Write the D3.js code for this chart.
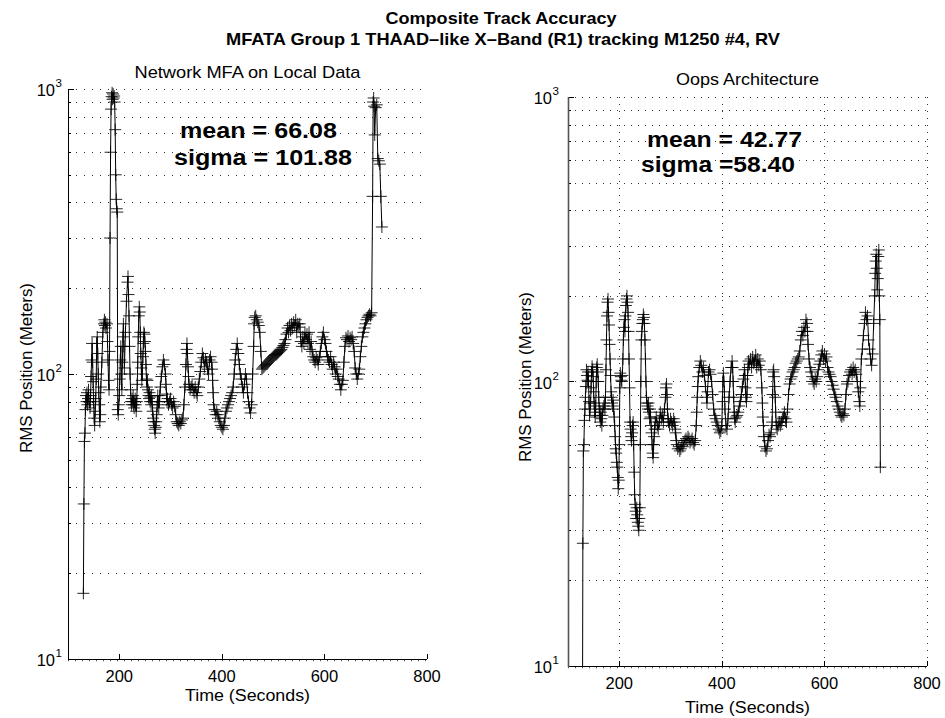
<!DOCTYPE html>
<html>
<head>
<meta charset="utf-8">
<script src="https://cdn.jsdelivr.net/npm/d3@7"></script>
<style>
body { margin: 0; background: #fff; }
svg { display: block; font-family: "Liberation Sans", Arial, Helvetica, sans-serif; }
</style>
</head>
<body>
<script>
(function(){

//pseudo-global chart data
var figTitle = ["Composite Track Accuracy", "MFATA Group 1 THAAD\u2013like X\u2013Band (R1) tracking M1250 #4, RV"];
var panelTitles = ["Network MFA on Local Data", "Oops Architecture"];
var statLines = [["mean = 66.08", "sigma = 101.88"], ["mean = 42.77", "sigma =58.40"]];
var xTicks = [200, 400, 600, 800];
var yTicks = [10, 100, 1000];
var yExps = ["1", "2", "3"];
var xLabel = "Time (Seconds)";
var yLabel = "RMS Position (Meters)";

//[time (s), rms position (m)]
var leftTrack = [
  [130,17],[131,35],[132,58],[133,62],[134,75],[135,84],[136,80],[137,86],[138,78],[139,82],
  [140,88],[141,80],[143,76],[144,84],[145,98],[146,112],[147,128],[148,110],[149,94],[150,80],
  [151,70],[152,66],[153,74],[154,82],[155,96],[156,128],[157,135],[158,118],[159,100],[160,86],
  [161,78],[162,68],[163,72],[164,90],[166,110],[168,140],[170,150],[171,155],[172,148],[173,152],
  [174,145],[176,150],[177,130],[178,112],[179,95],[180,88],[181,120],[182,300],[183,600],[184,850],
  [185,940],[186,970],[187,920],[188,960],[189,930],[190,945],[191,900],[192,720],[193,500],[194,410],
  [195,380],[196,370],[197,75],[198,72],[199,78],[200,84],[201,96],[202,112],[203,125],[204,100],
  [205,88],[206,110],[207,135],[208,150],[209,125],[210,105],[212,140],[214,180],[216,210],[217,220],
  [218,190],[219,160],[220,125],[221,100],[222,88],[223,80],[224,78],[225,82],[226,80],[227,84],
  [228,78],[229,76],[230,80],[231,82],[232,78],[233,74],[234,80],[235,92],[236,110],[237,135],
  [238,160],[239,172],[240,165],[241,140],[242,118],[243,105],[244,95],[245,100],[246,115],[247,128],
  [248,140],[249,138],[250,130],[251,120],[252,108],[253,96],[254,90],[255,95],[256,88],[257,84],
  [258,82],[259,86],[260,80],[261,83],[262,78],[263,84],[264,80],[265,74],[266,70],[267,68],
  [268,66],[269,64],[270,62],[271,65],[272,68],[273,72],[274,78],[275,84],[276,80],[277,76],
  [278,80],[279,84],[280,90],[282,98],[284,106],[286,112],[288,108],[290,100],[291,92],[292,85],
  [293,80],[294,82],[296,78],[298,80],[300,82],[302,78],[304,76],[306,80],[308,77],[310,72],
  [312,68],[314,67],[316,66],[318,68],[320,67],[322,69],[324,70],[326,78],[328,90],[330,108],
  [331,122],[332,128],[333,118],[334,106],[335,98],[336,92],[338,88],[340,90],[342,92],[344,88],
  [346,86],[348,90],[350,86],[352,84],[354,90],[356,96],[358,102],[360,110],[362,118],[364,114],
  [366,106],[368,112],[370,110],[372,104],[374,100],[376,112],[378,115],[380,110],[381,104],[382,95],
  [383,86],[384,78],[386,75],[388,72],[390,74],[392,72],[394,70],[396,68],[398,66],[400,65],
  [402,64],[404,66],[406,70],[408,74],[410,76],[412,78],[414,80],[416,82],[418,84],[420,86],
  [422,90],[424,100],[426,112],[428,122],[430,128],[432,118],[434,108],[436,100],[438,96],[440,90],
  [442,86],[444,92],[446,100],[448,96],[450,86],[452,80],[454,76],[456,73],[458,78],[460,100],
  [462,125],[463,150],[464,158],[466,160],[468,155],[470,152],[472,148],[474,140],[476,120],[478,104],
  [480,105],[482,106],[484,107],[486,108],[488,109],[490,110],[492,111],[494,112],[496,113],[498,114],
  [500,115],[502,116],[504,117],[506,117],[508,118],[510,119],[512,120],[514,121],[516,122],[518,124],
  [520,126],[522,128],[524,132],[526,138],[528,145],[530,140],[532,148],[534,142],[536,150],[538,145],
  [540,152],[542,148],[544,155],[546,140],[548,150],[550,146],[552,150],[554,130],[556,125],[558,135],
  [560,128],[562,140],[564,132],[566,138],[568,128],[570,140],[572,122],[574,130],[576,120],[578,115],
  [580,112],[582,110],[584,114],[586,112],[588,108],[590,115],[592,120],[594,128],[596,135],[598,140],
  [600,132],[602,128],[604,120],[606,115],[608,112],[610,110],[612,115],[614,108],[616,104],[618,110],
  [620,106],[622,100],[624,104],[626,98],[628,96],[630,92],[632,88],[634,92],[636,95],[638,110],
  [640,125],[642,134],[644,132],[646,136],[648,130],[650,134],[652,132],[654,135],[656,128],[658,120],
  [660,105],[662,100],[664,96],[666,100],[668,104],[670,115],[672,125],[674,135],[676,140],[678,145],
  [680,150],[682,155],[684,158],[686,160],[688,162],[690,160],[692,164],[694,420],[695,900],[696,930],
  [697,870],[698,690],[700,860],[702,880],[704,570],[706,560],[708,545],[710,420],[712,328]
];

//[time (s), rms position (m)]
var rightTrack = [
  [128,4],[129,27],[130,57],[131,60],[132,73],[133,80],[134,88],[135,96],[136,110],[137,105],
  [138,101],[139,108],[140,100],[141,85],[142,76],[143,80],[144,84],[145,95],[146,108],[147,113],
  [148,110],[149,104],[150,92],[151,84],[152,78],[153,75],[154,82],[155,100],[156,112],[157,115],
  [158,108],[159,100],[160,88],[161,80],[162,76],[163,72],[164,78],[165,74],[166,70],[167,76],
  [168,80],[170,82],[171,84],[172,80],[173,88],[174,110],[175,140],[176,170],[177,190],[178,195],
  [179,175],[180,158],[181,135],[182,120],[183,105],[184,92],[185,88],[186,84],[187,82],[188,86],
  [189,80],[190,75],[191,70],[192,64],[193,58],[194,56],[195,52],[196,50],[197,46],[198,42],
  [199,45],[200,60],[201,95],[202,107],[203,104],[204,101],[205,100],[206,105],[207,120],[208,140],
  [209,155],[210,165],[211,150],[212,170],[213,185],[214,195],[215,200],[216,190],[217,175],[218,150],
  [219,120],[220,95],[221,72],[222,68],[223,64],[224,62],[225,66],[226,70],[227,72],[228,60],
  [229,48],[230,40],[231,37],[232,35],[233,33],[234,36],[235,34],[236,32],[237,31],[238,30],
  [239,33],[240,36],[241,60],[242,100],[243,140],[244,150],[245,160],[246,165],[247,172],[248,168],
  [249,160],[250,140],[251,120],[252,100],[253,88],[254,84],[255,82],[256,80],[257,84],[258,78],
  [259,74],[260,80],[261,75],[262,70],[263,66],[264,60],[265,56],[266,54],[267,60],[268,64],
  [269,68],[270,72],[272,75],[274,70],[276,68],[278,72],[280,78],[282,74],[284,76],[286,72],
  [288,80],[290,88],[291,95],[292,98],[293,90],[294,80],[295,74],[296,72],[298,70],[300,74],
  [302,72],[304,70],[306,74],[308,72],[309,68],[310,66],[311,62],[312,60],[314,58],[316,59],
  [318,57],[320,58],[322,60],[324,59],[326,61],[328,62],[330,63],[332,62],[334,64],[336,63],
  [338,61],[340,62],[342,63],[344,61],[346,60],[348,62],[350,70],[351,78],[352,88],[353,96],
  [354,104],[356,112],[358,118],[360,114],[362,108],[364,112],[366,105],[368,96],[370,88],[371,84],
  [372,92],[374,108],[376,110],[378,106],[380,100],[382,90],[384,80],[386,76],[388,74],[390,72],
  [392,70],[394,68],[396,66],[398,67],[400,70],[401,85],[402,100],[403,107],[404,100],[405,92],
  [406,80],[408,70],[410,68],[412,74],[414,88],[416,100],[418,112],[420,118],[421,112],[422,100],
  [423,88],[424,78],[425,74],[426,72],[428,75],[430,76],[432,78],[434,82],[436,85],[438,90],
  [440,96],[442,102],[444,110],[445,105],[446,95],[447,88],[448,85],[449,90],[450,105],[451,112],
  [452,118],[454,115],[456,120],[458,112],[460,122],[462,116],[464,118],[466,124],[468,112],[470,120],
  [472,114],[474,118],[476,110],[478,95],[479,84],[480,75],[481,70],[482,64],[484,59],[486,57],
  [488,58],[490,62],[492,65],[494,64],[496,66],[498,72],[499,90],[500,108],[501,110],[502,104],
  [503,96],[504,88],[505,78],[506,70],[508,68],[510,70],[512,72],[514,70],[516,72],[518,74],
  [520,75],[522,78],[524,74],[526,72],[528,80],[530,90],[532,98],[534,102],[536,104],[538,108],
  [540,110],[542,112],[544,116],[546,118],[548,120],[550,122],[552,128],[554,140],[556,150],[558,145],
  [560,155],[562,150],[564,165],[566,160],[567,150],[568,135],[570,120],[572,112],[574,108],[576,104],
  [578,100],[580,98],[582,102],[584,100],[586,104],[588,110],[590,115],[592,118],[594,124],[596,128],
  [598,120],[600,125],[602,118],[604,122],[606,112],[608,108],[610,106],[612,104],[614,100],[616,97],
  [618,94],[620,90],[622,88],[624,85],[626,82],[628,80],[630,78],[632,76],[634,75],[636,77],
  [638,76],[640,80],[642,90],[644,98],[646,100],[648,105],[650,108],[652,110],[654,106],[656,112],
  [658,108],[660,110],[662,106],[664,100],[666,92],[668,85],[669,82],[670,95],[672,120],[674,130],
  [676,145],[678,160],[680,175],[682,165],[684,170],[686,140],[688,130],[690,120],[692,114],[694,125],
  [696,160],[698,200],[699,240],[700,265],[701,280],[702,250],[703,210],[704,230],[705,275],[706,290],
  [707,200],[708,165],[709,50]
];

var panels = [
  {track: leftTrack, x0: 68, x1: 427, y0: 89, y1: 659, xGrid: false, dash: "1,7",
   axisColor: "#000", axisWidth: 1, titleY: 78, titleLen: 226,
   stats: [{dx: 112, dy: 49, len: 157}, {dx: 106, dy: 76, len: 178}],
   expGap: 13, yLabelX: 32, yLabelY: 368, xLabelY: 701},
  {track: rightTrack, x0: 568, x1: 927, y0: 97, y1: 666, xGrid: true, dash: "1,6",
   axisColor: "#555", axisWidth: 1.6, titleY: 85, titleLen: 143,
   stats: [{dx: 79, dy: 50, len: 155}, {dx: 73, dy: 75, len: 154}],
   expGap: 16, yLabelX: 531, yLabelY: 377, xLabelY: 713}
];

var width = 945, height = 718;

var svg = d3.select("body")
    .append("svg")
    .attr("width", width)
    .attr("height", height);

//figure title, two bold lines
svg.append("text")
    .attr("x", 501).attr("y", 24)
    .attr("text-anchor", "middle")
    .attr("font-size", 17).attr("font-weight", "bold")
    .attr("textLength", 231).attr("lengthAdjust", "spacingAndGlyphs")
    .text(figTitle[0]);
svg.append("text")
    .attr("x", 503).attr("y", 45)
    .attr("text-anchor", "middle")
    .attr("font-size", 17).attr("font-weight", "bold")
    .attr("textLength", 554).attr("lengthAdjust", "spacingAndGlyphs")
    .text(figTitle[1]);

panels.forEach(function(p, i){
    drawPanel(p, i);
});

function drawPanel(p, i){
    var x = d3.scaleLinear().domain([100, 800]).range([p.x0, p.x1]);
    var y = d3.scaleLog().domain([10, 1000]).range([p.y1, p.y0]);

    var g = svg.append("g").attr("class", "panel" + i);

    //horizontal grid on every decade step
    var gridVals = [];
    [10, 100].forEach(function(dec){
        for (var k = 2; k <= 10; k++) gridVals.push(k * dec);
    });
    g.selectAll(".hgrid")
        .data(gridVals)
        .enter()
        .append("line")
        .attr("class", "hgrid")
        .attr("x1", p.x0).attr("x2", p.x1)
        .attr("y1", function(d){ return Math.round(y(d)) + 0.5; })
        .attr("y2", function(d){ return Math.round(y(d)) + 0.5; })
        .attr("stroke", "#333")
        .attr("stroke-dasharray", p.dash);

    //vertical grid only on the right panel
    if (p.xGrid){
        g.selectAll(".vgrid")
            .data(xTicks)
            .enter()
            .append("line")
            .attr("class", "vgrid")
            .attr("x1", function(d){ return Math.round(x(d)) + 0.5; })
            .attr("x2", function(d){ return Math.round(x(d)) + 0.5; })
            .attr("y1", p.y0).attr("y2", p.y1)
            .attr("stroke", "#333")
            .attr("stroke-dasharray", p.dash);
    }

    //y minor ticks
    g.selectAll(".ymin")
        .data(gridVals)
        .enter()
        .append("line")
        .attr("x1", p.x0).attr("x2", p.x0 + 3)
        .attr("y1", function(d){ return Math.round(y(d)) + 0.5; })
        .attr("y2", function(d){ return Math.round(y(d)) + 0.5; })
        .attr("stroke", "#000");

    //y major ticks
    g.selectAll(".ymaj")
        .data(yTicks)
        .enter()
        .append("line")
        .attr("x1", p.x0).attr("x2", p.x0 + 6)
        .attr("y1", function(d){ return Math.round(y(d)) + 0.5; })
        .attr("y2", function(d){ return Math.round(y(d)) + 0.5; })
        .attr("stroke", "#000");

    //x ticks pointing inward
    g.selectAll(".xmaj")
        .data(xTicks)
        .enter()
        .append("line")
        .attr("x1", function(d){ return Math.round(x(d)) + 0.5; })
        .attr("x2", function(d){ return Math.round(x(d)) + 0.5; })
        .attr("y1", p.y1).attr("y2", p.y1 - 5)
        .attr("stroke", "#000");

    //little dots under the bottom axis
    g.append("line")
        .attr("x1", p.x0).attr("x2", p.x1)
        .attr("y1", p.y1 + 1.5).attr("y2", p.y1 + 1.5)
        .attr("stroke", "#555")
        .attr("stroke-width", 1.5)
        .attr("stroke-dasharray", "1,6");

    //axis lines (box off)
    g.append("line")
        .attr("x1", p.x0).attr("x2", p.x1)
        .attr("y1", p.y1 + 0.5).attr("y2", p.y1 + 0.5)
        .attr("stroke", "#000");
    g.append("line")
        .attr("x1", p.x0 + 0.5).attr("x2", p.x0 + 0.5)
        .attr("y1", p.y0).attr("y2", p.y1 + 1)
        .attr("stroke", p.axisColor)
        .attr("stroke-width", p.axisWidth);

    //clip the track to the axes
    svg.append("clipPath")
        .attr("id", "clip" + i)
        .append("rect")
        .attr("x", p.x0).attr("y", p.y0 - 8)
        .attr("width", p.x1 - p.x0).attr("height", p.y1 - p.y0 + 8);

    var plot = g.append("g").attr("clip-path", "url(#clip" + i + ")");

    var line = d3.line()
        .x(function(d){ return x(d[0]); })
        .y(function(d){ return y(Math.max(d[1], 1)); });

    plot.append("path")
        .datum(p.track)
        .attr("d", line)
        .attr("fill", "none")
        .attr("stroke", "#000")
        .attr("stroke-width", 1);

    plot.selectAll(".mark")
        .data(p.track)
        .enter()
        .append("path")
        .attr("class", "mark")
        .attr("d", "M-6,0H6M0,-6V6")
        .attr("transform", function(d){
            return "translate(" + x(d[0]) + "," + y(Math.max(d[1], 1)) + ")";
        })
        .attr("stroke", "#000")
        .attr("stroke-width", 1)
        .attr("stroke-opacity", 0.85);

    //x tick labels
    g.selectAll(".xlab")
        .data(xTicks)
        .enter()
        .append("text")
        .attr("x", function(d){ return x(d); })
        .attr("y", p.y1 + 23)
        .attr("text-anchor", "middle")
        .attr("font-size", 16.5)
        .text(function(d){ return d; });

    //y tick labels as 10 with superscript
    g.selectAll(".ylab")
        .data(yTicks)
        .enter()
        .append("text")
        .attr("x", p.x0 - p.expGap)
        .attr("y", function(d){ return y(d) + 7; })
        .attr("text-anchor", "end")
        .attr("font-size", 16.5)
        .text("10");
    g.selectAll(".yexp")
        .data(yTicks)
        .enter()
        .append("text")
        .attr("x", p.x0 - p.expGap + 0.5)
        .attr("y", function(d){ return y(d) - 2; })
        .attr("font-size", 11.5)
        .text(function(d, j){ return yExps[j]; });

    //panel title
    g.append("text")
        .attr("x", (p.x0 + p.x1) / 2)
        .attr("y", p.titleY)
        .attr("text-anchor", "middle")
        .attr("font-size", 17)
        .attr("textLength", p.titleLen).attr("lengthAdjust", "spacingAndGlyphs")
        .text(panelTitles[i]);

    //mean / sigma annotation
    p.stats.forEach(function(s, j){
        g.append("text")
            .attr("x", p.x0 + s.dx)
            .attr("y", p.y0 + s.dy)
            .attr("font-size", 22)
            .attr("font-weight", "bold")
            .attr("textLength", s.len).attr("lengthAdjust", "spacingAndGlyphs")
            .text(statLines[i][j]);
    });

    //axis labels
    g.append("text")
        .attr("x", (p.x0 + p.x1) / 2)
        .attr("y", p.xLabelY)
        .attr("text-anchor", "middle")
        .attr("font-size", 16)
        .attr("textLength", 125).attr("lengthAdjust", "spacingAndGlyphs")
        .text(xLabel);
    g.append("text")
        .attr("transform", "translate(" + p.yLabelX + "," + p.yLabelY + ") rotate(-90)")
        .attr("text-anchor", "middle")
        .attr("font-size", 17)
        .attr("textLength", 170).attr("lengthAdjust", "spacingAndGlyphs")
        .text(yLabel);
}

})();
</script>
</body>
</html>
